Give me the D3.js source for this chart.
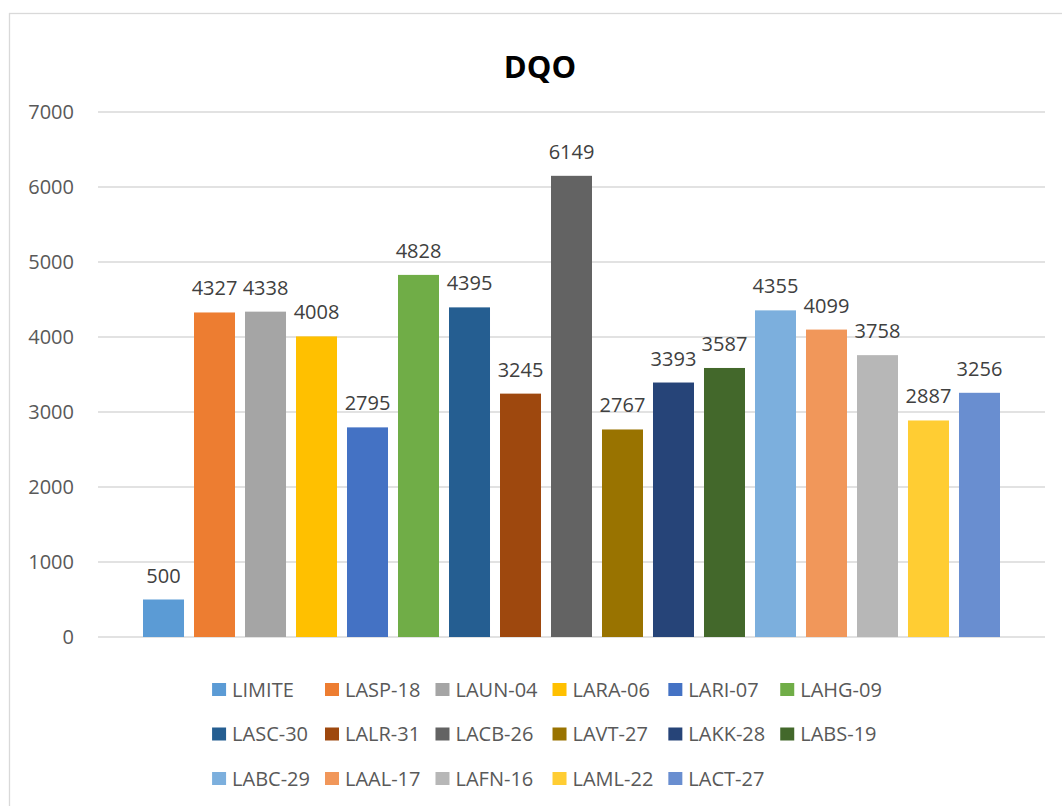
<!DOCTYPE html>
<html>
<head>
<meta charset="utf-8">
<script src="https://cdn.jsdelivr.net/npm/d3@7"></script>
<style>
  html, body { margin: 0; padding: 0; background: #fff; }
  svg { display: block; }
  text { font-family: "Open Sans", "Noto Sans", sans-serif; }
</style>
</head>
<body>
<svg id="chart" width="1062" height="806"></svg>
<script>
// DQO per sampling point
const seriesNames = ["LIMITE", "LASP-18", "LAUN-04", "LARA-06", "LARI-07", "LAHG-09",
  "LASC-30", "LALR-31", "LACB-26", "LAVT-27", "LAKK-28", "LABS-19",
  "LABC-29", "LAAL-17", "LAFN-16", "LAML-22", "LACT-27"];
const seriesValues = [500, 4327, 4338, 4008, 2795, 4828, 4395, 3245, 6149, 2767, 3393, 3587,
  4355, 4099, 3758, 2887, 3256];
const seriesColors = ["#5B9BD5", "#ED7D31", "#A5A5A5", "#FFC000", "#4472C4", "#70AD47",
  "#255E91", "#9E480E", "#636363", "#997300", "#264478", "#43682B",
  "#7CAFDD", "#F1975A", "#B7B7B7", "#FFCD33", "#698ED0"];
const yTicks = [0, 1000, 2000, 3000, 4000, 5000, 6000, 7000];
const chartTitle = "DQO";

const svg = d3.select("#chart");
const textColor = "#595959";
const gridColor = "#D9D9D9";

// chart frame
svg.append("rect")
  .attr("x", 9.5).attr("y", 13.5)
  .attr("width", 1100).attr("height", 900)
  .attr("fill", "#fff").attr("stroke", gridColor).attr("stroke-width", 1.3);

const plot = { left: 98, right: 1045, top: 112, bottom: 637 };

const y = d3.scaleLinear().domain([0, 7000]).range([plot.bottom, plot.top]);
const x = d3.scaleBand()
  .domain(seriesNames)
  .range([plot.left, plot.right])
  .paddingInner(0.196)
  .paddingOuter(0.8825);

// gridlines
svg.append("g")
  .selectAll("line")
  .data(yTicks)
  .join("line")
  .attr("x1", plot.left).attr("x2", plot.right)
  .attr("y1", d => y(d)).attr("y2", d => y(d))
  .attr("stroke", gridColor).attr("stroke-width", 1.4);

// y axis labels
const yAxis = d3.axisLeft(y).tickValues(yTicks).tickSize(0).tickPadding(0).tickFormat(d3.format("d"));
const yg = svg.append("g").attr("transform", `translate(${plot.left - 24},0)`).call(yAxis);
yg.select(".domain").remove();
yg.selectAll("text")
  .attr("fill", textColor)
  .style("font-family", '"Open Sans", sans-serif')
  .style("font-size", "20px");

const data = seriesNames.map((name, i) => ({ name, value: seriesValues[i], color: seriesColors[i] }));

// bars
svg.append("g")
  .selectAll("rect")
  .data(data)
  .join("rect")
  .attr("x", d => x(d.name))
  .attr("width", x.bandwidth())
  .attr("y", d => y(d.value))
  .attr("height", d => y(0) - y(d.value))
  .attr("fill", d => d.color);

// value labels
svg.append("g")
  .selectAll("text")
  .data(data)
  .join("text")
  .attr("x", d => x(d.name) + x.bandwidth() / 2)
  .attr("y", d => y(d.value) - 17)
  .attr("text-anchor", "middle")
  .attr("fill", "#404040")
  .style("font-size", "20px")
  .text(d => d.value);

// title
svg.append("text")
  .attr("x", 540).attr("y", 78)
  .attr("text-anchor", "middle")
  .attr("fill", "#000")
  .style("font-size", "31px")
  .style("font-weight", "bold")
  .text(chartTitle);

// legend: 6 entries per row, column widths from the widest label in each column
const perRow = 6;
const rowY = [689.5, 734, 778.5];
const swatch = 14, swatchGap = 6, colGap = 15;
const legend = svg.append("g");
const measure = legend.append("text").style("font-size", "20px");
const widths = seriesNames.map(n => { measure.text(n); return measure.node().getComputedTextLength(); });
measure.remove();
const colWidths = d3.range(perRow).map(c =>
  d3.max(seriesNames.map((n, i) => (i % perRow === c ? widths[i] : 0))));
const colX = [];
let acc = 0;
colWidths.forEach((w, c) => { colX.push(acc); acc += swatch + swatchGap + w + colGap; });
const totalW = acc - colGap;
const legendLeft = 547 - totalW / 2;

const items = legend.selectAll("g")
  .data(data)
  .join("g")
  .attr("transform", (d, i) => `translate(${legendLeft + colX[i % perRow]},${rowY[Math.floor(i / perRow)]})`);
items.append("rect")
  .attr("x", 0).attr("y", -6.5)
  .attr("width", swatch).attr("height", 13)
  .attr("fill", d => d.color);
items.append("text")
  .attr("x", swatch + swatchGap)
  .attr("y", 0)
  .attr("dy", "0.35em")
  .attr("fill", textColor)
  .style("font-size", "20px")
  .text(d => d.name);
</script>
</body>
</html>
